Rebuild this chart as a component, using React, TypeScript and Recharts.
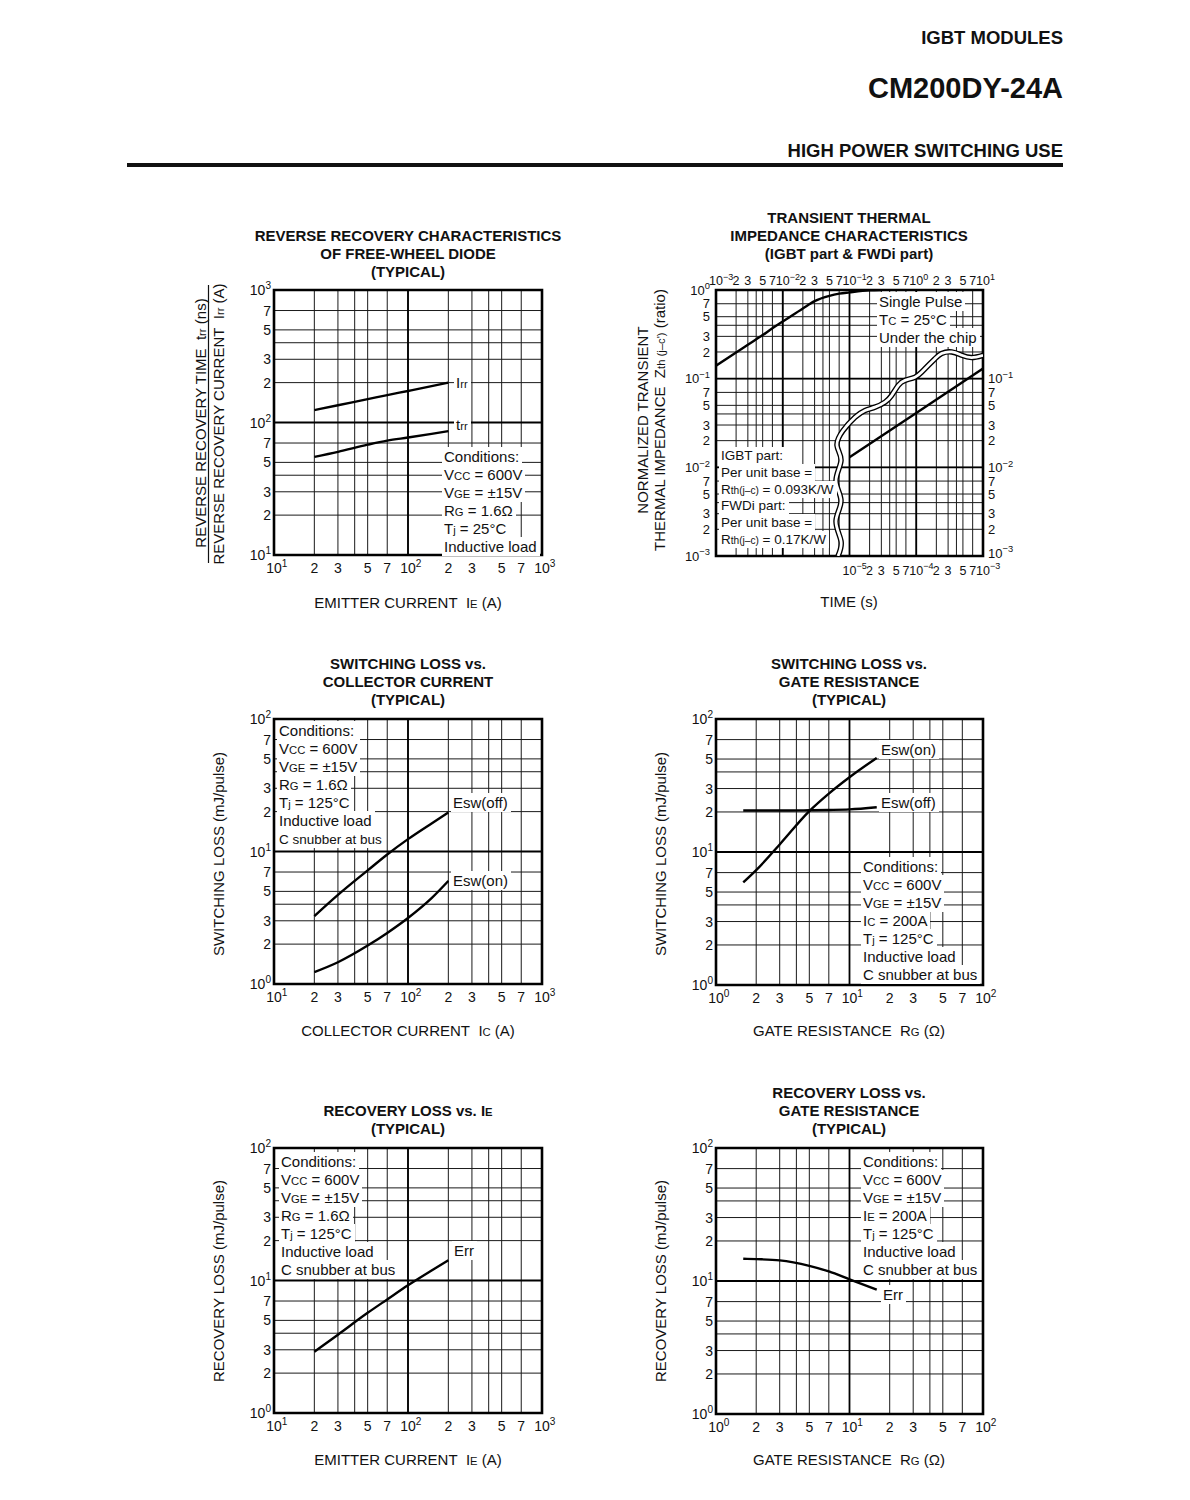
import React from "react";
import {
  ComposedChart,
  Line,
  XAxis,
  YAxis,
  CartesianGrid,
  ReferenceLine,
  ReferenceArea,
} from "recharts";

const FONT = '"Liberation Sans", Arial, Helvetica, sans-serif';
const INK = "#111";

// ---- axis ticks (log decades, grid at 2,3,4,5,7) ----
const currentTicks = [10, 20, 30, 40, 50, 70, 100, 200, 300, 400, 500, 700, 1000];
const currentTickLabels = ["10^1", "2", "3", "", "5", "7", "10^2", "2", "3", "", "5", "7", "10^3"];
const lossTicks = [1, 2, 3, 4, 5, 7, 10, 20, 30, 40, 50, 70, 100];
const lossTickLabels = ["10^0", "2", "3", "", "5", "7", "10^1", "2", "3", "", "5", "7", "10^2"];

const timeTicks = [
  0.001, 0.002, 0.003, 0.004, 0.005, 0.007, 0.01, 0.02, 0.03, 0.04, 0.05, 0.07,
  0.1, 0.2, 0.3, 0.4, 0.5, 0.7, 1, 2, 3, 4, 5, 7, 10,
];
const timeTickLabels = [
  "10^−3", "2", "3", "", "5", "7", "10^−2", "2", "3", "", "5", "7",
  "10^−1", "2", "3", "", "5", "7", "10^0", "2", "3", "", "5", "7", "10^1",
];
const shortTimeTicks = [1e-5, 2e-5, 3e-5, 5e-5, 7e-5, 1e-4, 2e-4, 3e-4, 5e-4, 7e-4, 1e-3];
const shortTimeTickLabels = ["10^−5", "2", "3", "5", "7", "10^−4", "2", "3", "5", "7", "10^−3"];
const zthTicks = [
  0.001, 0.002, 0.003, 0.004, 0.005, 0.007, 0.01, 0.02, 0.03, 0.04, 0.05, 0.07,
  0.1, 0.2, 0.3, 0.4, 0.5, 0.7, 1,
];
const zthTickLabels = [
  "10^−3", "2", "3", "", "5", "7", "10^−2", "2", "3", "", "5", "7",
  "10^−1", "2", "3", "", "5", "7", "10^0",
];
const zthRightLabels = [
  "10^−3", "2", "3", "", "5", "7", "10^−2", "2", "3", "", "5", "7",
  "10^−1", "", "", "", "", "", "",
];

// ---- reverse recovery (FWDi) ----
const rrCurrent = [20, 30, 50, 70, 100, 150, 200];
const irrValues = [124, 135, 150, 161, 173, 188, 200];
const trrValues = [55, 60, 68, 73, 77, 82, 86];

// ---- transient thermal impedance ----
const zthTime = [0.001, 0.002, 0.003, 0.005, 0.007, 0.01, 0.02, 0.03, 0.05, 0.07, 0.1, 0.2, 0.3];
const zthValues = [0.14, 0.197, 0.241, 0.31, 0.37, 0.44, 0.62, 0.75, 0.86, 0.91, 0.94, 0.99, 1.0];
const zthShortTime = [1e-5, 1e-4, 1e-3];
const zthShortValues = [0.013, 0.041, 0.13];
// axis break (double wavy line), in top-axis units
const breakTime = [
  0.0673, 0.0746, 0.0628, 0.0746, 0.0628, 0.0746, 0.065, 0.08, 0.121, 0.171, 0.241,
  0.34, 0.428, 0.538, 0.678, 0.957, 1.21, 1.52, 1.91, 2.4, 3.4, 4.8, 6.77, 10,
];
const breakZ = [
  0.001, 0.00148, 0.00248, 0.00419, 0.00705, 0.0119, 0.0176, 0.026, 0.0367, 0.0438, 0.0477,
  0.0543, 0.0647, 0.084, 0.0957, 0.104, 0.119, 0.1415, 0.168, 0.192, 0.2, 0.1835, 0.173, 0.1835,
];

// ---- switching loss vs collector current ----
const swCurrent = [20, 30, 50, 70, 100, 150, 200];
const eswOffIc = [3.25, 4.7, 7.2, 9.5, 12.4, 16.3, 19.7];
const eswOnIc = [1.23, 1.46, 1.95, 2.43, 3.15, 4.45, 6.0];

// ---- switching loss vs gate resistance ----
const gateRes = [1.6, 2, 3, 5, 7, 10, 16];
const eswOnRg = [5.9, 7.3, 11.4, 20.3, 27.5, 36.5, 51];
const eswOffRg = [20.5, 20.5, 20.5, 20.6, 20.7, 20.9, 21.7];

// ---- recovery loss ----
const recCurrent = [20, 30, 50, 70, 100, 150, 200];
const errIe = [2.9, 3.9, 5.7, 7.2, 9.2, 11.9, 14.2];
const errRg = [14.7, 14.6, 14.3, 13.0, 11.8, 10.3, 8.6];

const PAD_L = 70;
const PAD_T = 20;
const PAD_R = 60;
const PAD_B = 40;

const pts = (xs: number[], ys: number[]) => xs.map((x, i) => ({ x, y: ys[i] }));

const lookup = (ticks: number[], labels: string[], v: number) => {
  const i = ticks.findIndex((t) => Math.abs(t - v) <= t * 1e-6);
  return i < 0 ? "" : labels[i];
};

function tickText(label: string, x: number, y: number, anchor: "start" | "middle" | "end", size: number) {
  const [base, exp] = label.split("^");
  return (
    <text x={x} y={y} textAnchor={anchor} fontFamily={FONT} fontSize={size} fill={INK}>
      {base}
      {exp !== undefined && (
        <tspan dy={-size * 0.42} fontSize={size * 0.72}>
          {exp}
        </tspan>
      )}
    </text>
  );
}

// bottom / top tick: "10" centred on the line, exponent trailing
const xTick = (ticks: number[], labels: string[], side: "top" | "bottom", size = 14, off = 17.5) => (props: any) => {
  const label = lookup(ticks, labels, props.payload.value);
  if (!label) return <g />;
  const pow = label.includes("^");
  const ty = side === "bottom" ? props.y + off : props.y - 5;
  return tickText(label, pow ? props.x - size * 0.556 : props.x, ty, pow ? "start" : "middle", size);
};

const yTick = (ticks: number[], labels: string[], side: "left" | "right", size = 14, gap = 3) => (props: any) => {
  const label = lookup(ticks, labels, props.payload.value);
  if (!label) return <g />;
  // lowest right-hand label sits a touch higher, clear of the bottom axis labels
  const lift = side === "right" && props.payload.value === ticks[0] ? 3 : 0;
  const ty = props.y + size * 0.36 - lift;
  return side === "left"
    ? tickText(label, props.x - gap, ty, "end", size)
    : tickText(label, props.x + gap, ty, "start", size);
};

const isDecade = (labels: string[]) => (_: number, i: number) => labels[i].startsWith("10^");

type Curve = { xs: number[]; ys: number[] };

function LogPlot(props: {
  left: number;
  top: number;
  w: number;
  h: number;
  xTicks: number[];
  xLabels: string[];
  yTicks: number[];
  yLabels: string[];
  curves: Curve[];
}) {
  const { left, top, w, h, xTicks, xLabels, yTicks, yLabels, curves } = props;
  const xDom = [xTicks[0], xTicks[xTicks.length - 1]];
  const yDom = [yTicks[0], yTicks[yTicks.length - 1]];
  return (
    <div style={{ position: "absolute", left: left - PAD_L, top: top - PAD_T, zIndex: 1 }}>
      <ComposedChart
        width={w + PAD_L + PAD_R}
        height={h + PAD_T + PAD_B}
        margin={{ top: PAD_T, right: PAD_R, bottom: 0, left: 0 }}
      >
        <CartesianGrid stroke="#1a1a1a" strokeWidth={1} />
        <XAxis
          dataKey="x"
          type="number"
          scale="log"
          domain={xDom}
          allowDataOverflow
          ticks={xTicks}
          interval={0}
          height={PAD_B}
          axisLine={false}
          tickLine={false}
          tickSize={0}
          tickMargin={0}
          tick={xTick(xTicks, xLabels, "bottom")}
        />
        <YAxis
          dataKey="y"
          type="number"
          scale="log"
          domain={yDom}
          allowDataOverflow
          ticks={yTicks}
          interval={0}
          width={PAD_L}
          axisLine={false}
          tickLine={false}
          tickSize={0}
          tickMargin={0}
          tick={yTick(yTicks, yLabels, "left")}
        />
        {xTicks.filter(isDecade(xLabels)).map((v) => (
          <ReferenceLine key={"x" + v} x={v} stroke="#000" strokeWidth={1.8} />
        ))}
        {yTicks.filter(isDecade(yLabels)).map((v) => (
          <ReferenceLine key={"y" + v} y={v} stroke="#000" strokeWidth={1.8} />
        ))}
        <ReferenceArea x1={xDom[0]} x2={xDom[1]} y1={yDom[0]} y2={yDom[1]} fill="none" stroke="#000" strokeWidth={2.6} />
        {curves.map((c, i) => (
          <Line
            key={i}
            data={pts(c.xs, c.ys)}
            dataKey="y"
            type="monotone"
            stroke="#000"
            strokeWidth={2.4}
            dot={false}
            activeDot={false}
            isAnimationActive={false}
          />
        ))}
      </ComposedChart>
    </div>
  );
}

function ThermalPlot() {
  const left = 716;
  const top = 290;
  const w = 267;
  const h = 266;
  return (
    <div style={{ position: "absolute", left: left - PAD_L, top: top - PAD_T, zIndex: 1 }}>
      <ComposedChart
        width={w + PAD_L + PAD_R}
        height={h + PAD_T + PAD_B}
        margin={{ top: 0, right: 20, bottom: 0, left: 0 }}
      >
        <XAxis
          xAxisId="top"
          orientation="top"
          dataKey="x"
          type="number"
          scale="log"
          domain={[0.001, 10]}
          allowDataOverflow
          ticks={timeTicks}
          interval={0}
          height={PAD_T}
          axisLine={false}
          tickLine={false}
          tickSize={0}
          tickMargin={0}
          tick={xTick(timeTicks, timeTickLabels, "top", 12.5)}
        />
        <XAxis
          xAxisId="short"
          orientation="bottom"
          dataKey="x"
          type="number"
          scale="log"
          domain={[1e-7, 1e-3]}
          allowDataOverflow
          ticks={shortTimeTicks}
          interval={0}
          height={PAD_B}
          axisLine={false}
          tickLine={false}
          tickSize={0}
          tickMargin={0}
          tick={xTick(shortTimeTicks, shortTimeTickLabels, "bottom", 12.5, 18.5)}
        />
        <YAxis
          yAxisId="left"
          dataKey="y"
          type="number"
          scale="log"
          domain={[0.001, 1]}
          allowDataOverflow
          ticks={zthTicks}
          interval={0}
          width={PAD_L}
          axisLine={false}
          tickLine={false}
          tickSize={0}
          tickMargin={0}
          tick={yTick(zthTicks, zthTickLabels, "left", 13, 6)}
        />
        <YAxis
          yAxisId="right"
          orientation="right"
          type="number"
          scale="log"
          domain={[0.001, 1]}
          allowDataOverflow
          ticks={zthTicks}
          interval={0}
          width={40}
          axisLine={false}
          tickLine={false}
          tickSize={0}
          tickMargin={0}
          tick={yTick(zthTicks, zthRightLabels, "right", 13, 5)}
        />
        <CartesianGrid xAxisId="top" yAxisId="left" stroke="#1a1a1a" strokeWidth={1} />
        {timeTicks.filter(isDecade(timeTickLabels)).map((v) => (
          <ReferenceLine key={"x" + v} xAxisId="top" yAxisId="left" x={v} stroke="#000" strokeWidth={1.8} />
        ))}
        {zthTicks.filter(isDecade(zthTickLabels)).map((v) => (
          <ReferenceLine key={"y" + v} xAxisId="top" yAxisId="left" y={v} stroke="#000" strokeWidth={1.8} />
        ))}
        <ReferenceArea
          xAxisId="top"
          yAxisId="left"
          x1={0.001}
          x2={10}
          y1={0.001}
          y2={1}
          fill="none"
          stroke="#000"
          strokeWidth={2.6}
        />
        <Line
          xAxisId="top"
          yAxisId="left"
          data={pts(zthTime, zthValues)}
          dataKey="y"
          type="monotone"
          stroke="#000"
          strokeWidth={2.4}
          dot={false}
          activeDot={false}
          isAnimationActive={false}
        />
        <Line
          xAxisId="short"
          yAxisId="left"
          data={pts(zthShortTime, zthShortValues)}
          dataKey="y"
          type="linear"
          stroke="#000"
          strokeWidth={2.4}
          dot={false}
          activeDot={false}
          isAnimationActive={false}
        />
        <Line
          xAxisId="top"
          yAxisId="left"
          data={pts(breakTime, breakZ)}
          dataKey="y"
          type="natural"
          stroke="#000"
          strokeWidth={5.5}
          dot={false}
          activeDot={false}
          isAnimationActive={false}
        />
        <Line
          xAxisId="top"
          yAxisId="left"
          data={pts(breakTime, breakZ)}
          dataKey="y"
          type="natural"
          stroke="#fff"
          strokeWidth={2.8}
          dot={false}
          activeDot={false}
          isAnimationActive={false}
        />
      </ComposedChart>
    </div>
  );
}

// small-caps style subscript pieces
const sm = (t: string) => <tspan fontSize="0.75em">{t}</tspan>;
const hs = (t: string) => <span style={{ fontSize: "0.75em" }}>{t}</span>;

function Note({ x, y, lines, size = 15, lh = 18 }: { x: number; y: number; lines: React.ReactNode[]; size?: number; lh?: number }) {
  return (
    <div
      style={{
        position: "absolute",
        left: x - 2,
        top: y - lh / 2,
        zIndex: 2,
        fontFamily: FONT,
        fontSize: size,
        lineHeight: `${lh}px`,
        whiteSpace: "nowrap",
        color: INK,
      }}
    >
      {lines.map((l, i) => (
        <div key={i} style={{ height: lh }}>
          <span style={{ background: "#fff", padding: "1px 3px 1px 2px" }}>{l}</span>
        </div>
      ))}
    </div>
  );
}

function Title({ x, y, lines }: { x: number; y: number; lines: React.ReactNode[] }) {
  return (
    <g>
      {lines.map((l, i) => (
        <text key={i} x={x} y={y + i * 18 + 5.3} textAnchor="middle" fontSize={15} fontWeight="bold">
          {l}
        </text>
      ))}
    </g>
  );
}

const AxisTitle = ({ x, y, children }: { x: number; y: number; children: React.ReactNode }) => (
  <text x={x} y={y + 5.3} textAnchor="middle" fontSize={15}>
    {children}
  </text>
);

const VTitle = ({ x, y, children }: { x: number; y: number; children: React.ReactNode }) => (
  <text x={x} y={y + 5.3} textAnchor="middle" fontSize={15} transform={`rotate(-90 ${x} ${y})`}>
    {children}
  </text>
);

const condIc = (rLabel: React.ReactNode) => [
  "Conditions:",
  <>V{hs("CC")} = 600V</>,
  <>V{hs("GE")} = ±15V</>,
  rLabel,
  <>T{hs("j")} = 125°C</>,
  "Inductive load",
];

export default function App() {
  return (
    <div
      style={{
        position: "absolute",
        left: 0,
        top: 0,
        width: 1190,
        height: 1500,
        background: "#fff",
        fontFamily: FONT,
      }}
    >
      <svg width={1190} height={1500} style={{ position: "absolute", left: 0, top: 0, fontFamily: FONT }} fill={INK}>
        <text x={1063} y={44} textAnchor="end" fontSize={18.5} fontWeight="bold">
          IGBT MODULES
        </text>
        <text x={1063} y={97.5} textAnchor="end" fontSize={29} fontWeight="bold">
          CM200DY-24A
        </text>
        <text x={1063} y={156.5} textAnchor="end" fontSize={18.5} fontWeight="bold">
          HIGH POWER SWITCHING USE
        </text>
        <line x1={127} x2={1063} y1={165} y2={165} stroke={INK} strokeWidth={4} />

        <Title x={408} y={235.5} lines={["REVERSE RECOVERY CHARACTERISTICS", "OF FREE-WHEEL DIODE", "(TYPICAL)"]} />
        <Title x={849} y={217.5} lines={["TRANSIENT THERMAL", "IMPEDANCE CHARACTERISTICS", "(IGBT part & FWDi part)"]} />
        <Title x={408} y={664} lines={["SWITCHING LOSS vs.", "COLLECTOR CURRENT", "(TYPICAL)"]} />
        <Title x={849} y={664} lines={["SWITCHING LOSS vs.", "GATE RESISTANCE", "(TYPICAL)"]} />
        <Title x={408} y={1111} lines={[<>RECOVERY LOSS vs. I{sm("E")}</>, "(TYPICAL)"]} />
        <Title x={849} y={1093} lines={["RECOVERY LOSS vs.", "GATE RESISTANCE", "(TYPICAL)"]} />

        <AxisTitle x={408} y={602.5}>
          EMITTER CURRENT{"\u00a0\u00a0"}I{sm("E")} (A)
        </AxisTitle>
        <AxisTitle x={849} y={602}>
          TIME (s)
        </AxisTitle>
        <AxisTitle x={408} y={1031}>
          COLLECTOR CURRENT{"\u00a0\u00a0"}I{sm("C")} (A)
        </AxisTitle>
        <AxisTitle x={849} y={1031}>
          GATE RESISTANCE{"\u00a0\u00a0"}R{sm("G")} (Ω)
        </AxisTitle>
        <AxisTitle x={408} y={1460}>
          EMITTER CURRENT{"\u00a0\u00a0"}I{sm("E")} (A)
        </AxisTitle>
        <AxisTitle x={849} y={1460}>
          GATE RESISTANCE{"\u00a0\u00a0"}R{sm("G")} (Ω)
        </AxisTitle>

        <VTitle x={200.5} y={423}>
          REVERSE RECOVERY TIME{"\u00a0\u00a0"}t{sm("rr")} (ns)
        </VTitle>
        <line x1={208.5} x2={208.5} y1={285} y2={563} stroke={INK} strokeWidth={1.2} />
        <VTitle x={219} y={424}>
          REVERSE RECOVERY CURRENT{"\u00a0\u00a0"}I{sm("rr")} (A)
        </VTitle>
        <VTitle x={643} y={420}>
          NORMALIZED TRANSIENT
        </VTitle>
        <VTitle x={660} y={420}>
          THERMAL IMPEDANCE{"\u00a0\u00a0"}Z{sm("th (j–c')")} (ratio)
        </VTitle>
        <VTitle x={219} y={854}>
          SWITCHING LOSS (mJ/pulse)
        </VTitle>
        <VTitle x={661} y={854}>
          SWITCHING LOSS (mJ/pulse)
        </VTitle>
        <VTitle x={219} y={1281}>
          RECOVERY LOSS (mJ/pulse)
        </VTitle>
        <VTitle x={661} y={1281}>
          RECOVERY LOSS (mJ/pulse)
        </VTitle>
      </svg>

      <LogPlot
        left={274}
        top={290}
        w={268}
        h={265}
        xTicks={currentTicks}
        xLabels={currentTickLabels}
        yTicks={currentTicks}
        yLabels={currentTickLabels}
        curves={[
          { xs: rrCurrent, ys: irrValues },
          { xs: rrCurrent, ys: trrValues },
        ]}
      />
      <ThermalPlot />
      <LogPlot
        left={274}
        top={719}
        w={268}
        h={265}
        xTicks={currentTicks}
        xLabels={currentTickLabels}
        yTicks={lossTicks}
        yLabels={lossTickLabels}
        curves={[
          { xs: swCurrent, ys: eswOffIc },
          { xs: swCurrent, ys: eswOnIc },
        ]}
      />
      <LogPlot
        left={716}
        top={719}
        w={267}
        h={266}
        xTicks={lossTicks}
        xLabels={lossTickLabels}
        yTicks={lossTicks}
        yLabels={lossTickLabels}
        curves={[
          { xs: gateRes, ys: eswOnRg },
          { xs: gateRes, ys: eswOffRg },
        ]}
      />
      <LogPlot
        left={274}
        top={1148}
        w={268}
        h={265}
        xTicks={currentTicks}
        xLabels={currentTickLabels}
        yTicks={lossTicks}
        yLabels={lossTickLabels}
        curves={[{ xs: recCurrent, ys: errIe }]}
      />
      <LogPlot
        left={716}
        top={1148}
        w={267}
        h={266}
        xTicks={lossTicks}
        xLabels={lossTickLabels}
        yTicks={lossTicks}
        yLabels={lossTickLabels}
        curves={[{ xs: gateRes, ys: errRg }]}
      />

      {/* reverse recovery labels */}
      <Note x={456} y={383} lines={[<>I{hs("rr")}</>]} />
      <Note x={456} y={425} lines={[<>t{hs("rr")}</>]} />
      <Note
        x={444}
        y={456.5}
        lines={[
          "Conditions:",
          <>V{hs("CC")} = 600V</>,
          <>V{hs("GE")} = ±15V</>,
          <>R{hs("G")} = 1.6Ω</>,
          <>T{hs("j")} = 25°C</>,
          "Inductive load",
        ]}
      />

      {/* thermal notes */}
      <Note x={879} y={302} lines={["Single Pulse", <>T{hs("C")} = 25°C</>, "Under the chip"]} />
      <Note
        x={721}
        y={456.5}
        size={13.5}
        lh={16.7}
        lines={[
          "IGBT part:",
          "Per unit base =",
          <>R{hs("th(j–c)")} = 0.093K/W</>,
          "FWDi part:",
          "Per unit base =",
          <>R{hs("th(j–c)")} = 0.17K/W</>,
        ]}
      />

      {/* switching loss vs Ic */}
      <Note
        x={279}
        y={730.5}
        lines={[...condIc(<>R{hs("G")} = 1.6Ω</>), <span style={{ fontSize: 13.5 }}>C snubber at bus</span>]}
      />
      <Note x={453} y={803} lines={["Esw(off)"]} />
      <Note x={453} y={881} lines={["Esw(on)"]} />

      {/* switching loss vs Rg */}
      <Note x={881} y={750} lines={["Esw(on)"]} />
      <Note x={881} y={803} lines={["Esw(off)"]} />
      <Note
        x={863}
        y={866.5}
        lines={[
          "Conditions:",
          <>V{hs("CC")} = 600V</>,
          <>V{hs("GE")} = ±15V</>,
          <>I{hs("C")} = 200A</>,
          <>T{hs("j")} = 125°C</>,
          "Inductive load",
          "C snubber at bus",
        ]}
      />

      {/* recovery loss vs Ie */}
      <Note x={281} y={1161.5} lines={[...condIc(<>R{hs("G")} = 1.6Ω</>), "C snubber at bus"]} />
      <Note x={454} y={1250.5} lines={["Err"]} />

      {/* recovery loss vs Rg */}
      <Note
        x={863}
        y={1161.5}
        lines={[
          "Conditions:",
          <>V{hs("CC")} = 600V</>,
          <>V{hs("GE")} = ±15V</>,
          <>I{hs("E")} = 200A</>,
          <>T{hs("j")} = 125°C</>,
          "Inductive load",
          "C snubber at bus",
        ]}
      />
      <Note x={883} y={1295} lines={["Err"]} />
    </div>
  );
}
